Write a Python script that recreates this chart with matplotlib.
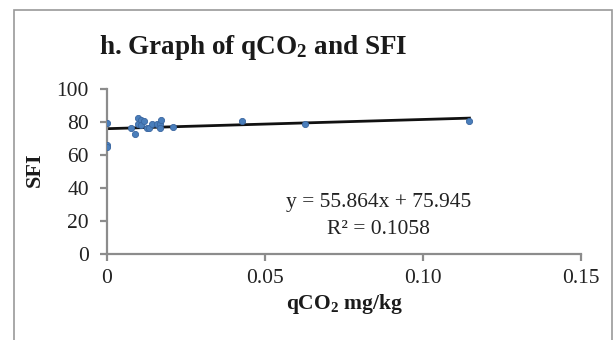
import numpy as np
import matplotlib
matplotlib.use("Agg")
import matplotlib.pyplot as plt
from matplotlib.patches import Rectangle

plt.rcParams['font.family'] = ['Liberation Serif', 'DejaVu Serif']
plt.rcParams['mathtext.fontset'] = 'custom'
plt.rcParams['mathtext.rm'] = 'Liberation Serif'
plt.rcParams['mathtext.bf'] = 'Liberation Serif:bold'
plt.rcParams['mathtext.it'] = 'Liberation Serif:italic'

# qCO2 (mg/kg) against SFI
qco2 = [0.0, 0.0, 0.0, 0.0076, 0.0089, 0.0097, 0.0097, 0.0108, 0.0108,
        0.0118, 0.0125, 0.0134, 0.0141, 0.0157, 0.0168, 0.0171, 0.0168,
        0.021, 0.0426, 0.0627, 0.1147]
sfi = [79.2, 66.0, 64.8, 76.5, 73.0, 82.6, 79.0, 81.0, 78.0,
       80.8, 76.5, 76.5, 79.0, 78.8, 78.6, 81.0, 76.5,
       77.0, 80.8, 78.6, 80.6]

slope, intercept, r2 = 55.864, 75.945, 0.1058
x_ticks = [0, 0.05, 0.10, 0.15]
x_tick_labels = ['0', '0.05', '0.10', '0.15']
y_ticks = [0, 20, 40, 60, 80, 100]

fig = plt.figure(figsize=(6.14, 3.40), dpi=100)
fig.patches.append(Rectangle((14 / 614, -0.05), 598 / 614, 1 - 10 / 340 + 0.05,
                             transform=fig.transFigure, fill=False,
                             edgecolor='#999999', linewidth=1.2))

ax = fig.add_axes([107 / 614, 1 - 254 / 340, 474 / 614, 165 / 340])

ax.scatter(qco2, sfi, s=20, color='#4a7ebb', edgecolor='#3a66a0',
           linewidth=0.6, zorder=3)

xl = np.array([min(qco2), max(qco2)])
ax.plot(xl, slope * xl + intercept, color='#111111', linewidth=2, zorder=2)

ax.set_xlim(0, 0.15)
ax.set_ylim(0, 100)
ax.set_xticks(x_ticks)
ax.set_xticklabels(x_tick_labels)
ax.set_yticks(y_ticks)

for side in ['top', 'right']:
    ax.spines[side].set_visible(False)
for side in ['left', 'bottom']:
    ax.spines[side].set_color('#8c8c8c')
    ax.spines[side].set_linewidth(1.6)
ax.tick_params(colors='#8c8c8c', width=1.6, length=5, labelsize=15.5,
               labelcolor='#222222')
ax.tick_params(axis='x', pad=6)
ax.tick_params(axis='y', pad=8)

fig.text(253 / 614, 1 - 47 / 340, r'h. Graph of qCO$_{\mathbf{2}}$ and SFI',
         ha='center', va='center', fontsize=19.5, fontweight='bold',
         color='#1a1a1a')
fig.text(35 / 614, 1 - 170 / 340, 'SFI', rotation=90, ha='center',
         va='center', fontsize=16, fontweight='bold', color='#1a1a1a')
fig.text(344 / 614, 1 - 304 / 340, r'qCO$_{\mathbf{2}}$ mg/kg', ha='center',
         va='center', fontsize=15.5, fontweight='bold', color='#1a1a1a')

fig.text(379 / 614, 1 - 202 / 340,
         'y = {:.3f}x + {:.3f}'.format(slope, intercept),
         ha='center', va='center', fontsize=15.5, color='#222222')
fig.text(378 / 614, 1 - 229 / 340, 'R² = {:.4f}'.format(r2),
         ha='center', va='center', fontsize=15.5, color='#222222')

fig.savefig('out.png', dpi=100)
